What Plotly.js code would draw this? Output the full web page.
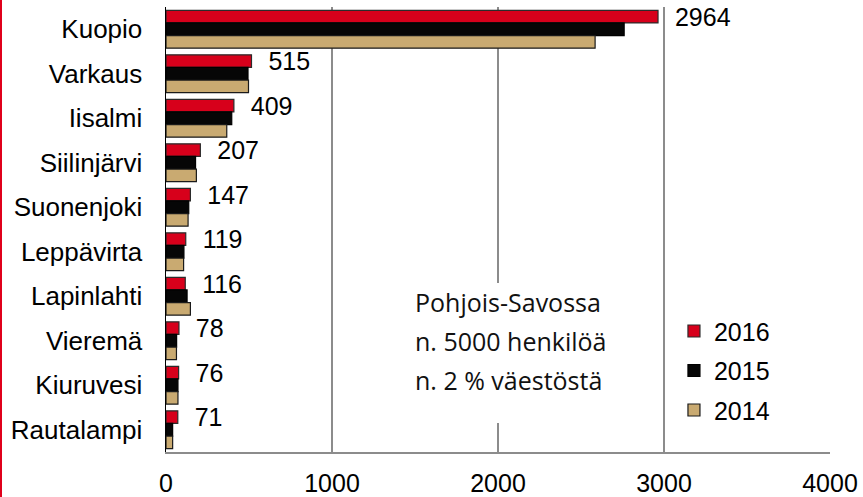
<!DOCTYPE html>
<html>
<head>
<meta charset="utf-8">
<script src="https://cdn.plot.ly/plotly-3.0.1.min.js"></script>
<style>
  html, body { margin: 0; padding: 0; background: #fff; }
  #wrap { position: relative; width: 863px; height: 497px; }
  #chart { position: absolute; left: 0; top: 0; width: 863px; height: 497px; }
  #edge { position: absolute; left: 0; top: 0; width: 2px; height: 497px; background: #e0001b; }
</style>
</head>
<body>
<div id="wrap"><div id="chart"></div><div id="edge"></div></div>
<script>
const categories = ["Kuopio", "Varkaus", "Iisalmi", "Siilinjärvi", "Suonenjoki", "Leppävirta", "Lapinlahti", "Vieremä", "Kiuruvesi", "Rautalampi"];
const values2016 = [2964, 515, 409, 207, 147, 119, 116, 78, 76, 71];
const values2015 = [2760, 494, 396, 178, 137, 108, 127, 64, 72, 40];
const values2014 = [2585, 497, 366, 183, 133, 106, 147, 63, 72, 40];
const seriesNames = ["2016", "2015", "2014"];
const noteLines = ["Pohjois-Savossa", "n. 5000 henkilöä", "n. 2 % väestöstä"];
const xTicks = [0, 1000, 2000, 3000, 4000];

const colors = ["#d7001b", "#060606", "#c9aa71"];
const lineColors = ["#2b2b2b", "#000000", "#1a1a1a"];
const allVals = [values2016, values2015, values2014];

const traces = allVals.map((vals, i) => {
  const t = {
    type: "bar",
    orientation: "h",
    name: seriesNames[i],
    legendgroup: "g" + i,
    x: vals,
    y: categories,
    marker: { color: colors[i], line: { color: lineColors[i], width: 1.2 } },
    hoverinfo: "x+y+name"
  };
  if (i === 0) {
    t.text = vals.map(v => "\u00a0\u00a0" + v);
    t.textposition = "outside";
    t.constraintext = "none";
    t.cliponaxis = false;
    t.textfont = { family: "Liberation Sans, Arial, sans-serif", size: 25, color: "#000" };
  }
  return t;
});

const font = "Liberation Sans, Arial, sans-serif";
const noteY = [0.337, 0.249, 0.162];
const annotations = noteLines.map((s, i) => ({
  xref: "paper", yref: "paper", x: 0.372, y: noteY[i],
  xanchor: "left", yanchor: "middle", showarrow: false,
  text: s, align: "left",
  font: { family: "Open Sans, Noto Sans, sans-serif", size: 25, color: "#111" }
}));

const layout = {
  width: 863, height: 497,
  margin: { l: 166, r: 33, t: 7, b: 45 },
  paper_bgcolor: "#fff", plot_bgcolor: "#fff",
  barmode: "group", bargap: 0.15, bargroupgap: 0,
  showlegend: true,
  legend: {
    x: 0.765, y: 0.323, xanchor: "left", yanchor: "top",
    traceorder: "grouped", tracegroupgap: 4,
    font: { family: font, size: 25, color: "#000" },
    bgcolor: "rgba(0,0,0,0)"
  },
  xaxis: {
    range: [0, 4000], tickvals: xTicks, ticktext: xTicks.map(String),
    showgrid: true, gridcolor: "#8c8c8c", gridwidth: 1.5,
    showline: true, linecolor: "#8c8c8c", linewidth: 1.5,
    zeroline: false, ticks: "outside", ticklen: 8, tickcolor: "rgba(0,0,0,0)",
    tickfont: { family: font, size: 25, color: "#000" }, fixedrange: true
  },
  yaxis: {
    autorange: "reversed", type: "category",
    showgrid: false, showline: true, linecolor: "#000", linewidth: 1.5,
    zeroline: false, ticks: "outside", ticklen: 17, tickcolor: "rgba(0,0,0,0)",
    tickfont: { family: font, size: 26, color: "#000" }, fixedrange: true
  },
  shapes: [{
    type: "rect", xref: "paper", yref: "paper", layer: "above",
    x0: 0.36, x1: 0.70, y0: 0.065, y1: 0.38,
    fillcolor: "#fff", line: { width: 0 }
  }],
  annotations: annotations
};

Plotly.newPlot("chart", traces, layout, { displayModeBar: false, staticPlot: true });
</script>
</body>
</html>
